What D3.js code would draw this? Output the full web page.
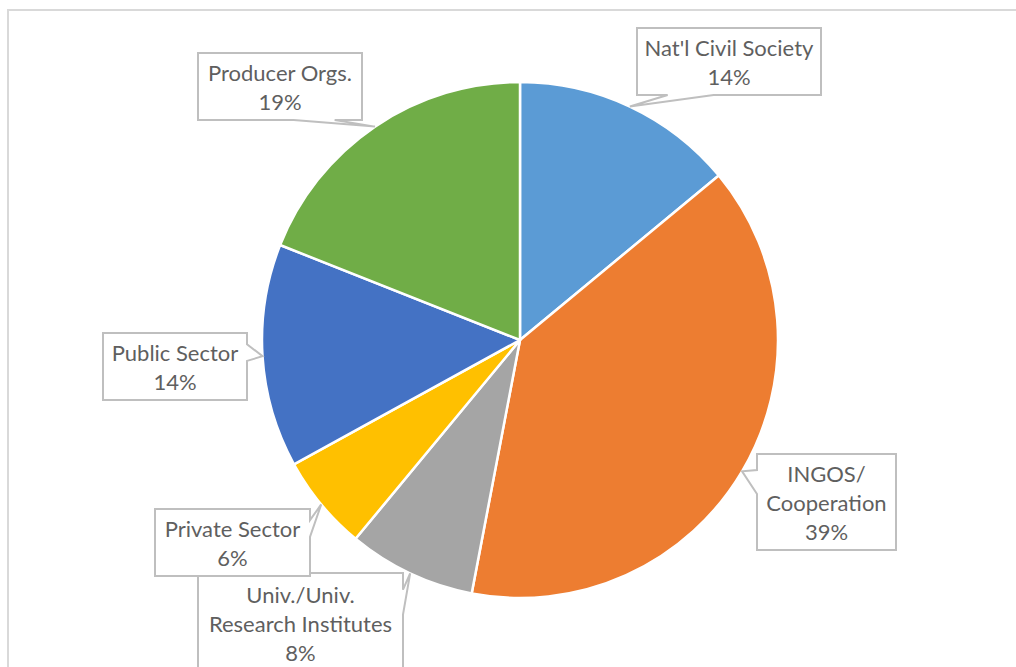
<!DOCTYPE html>
<html>
<head>
<meta charset="utf-8">
<script src="https://cdn.jsdelivr.net/npm/d3@7"></script>
<style>
  html, body { margin: 0; padding: 0; background: #fff; }
  svg { display: block; }
</style>
</head>
<body>
<svg id="chart" width="1016" height="667"></svg>
<script>
// Share of partners by type (percent), clockwise from 12 o'clock
const categories = ["Nat'l Civil Society", "INGOS/\nCooperation", "Univ./Univ.\nResearch Institutes", "Private Sector", "Public Sector", "Producer Orgs."];
const values = [14, 39, 8, 6, 14, 19];
const colors = ["#5B9BD5", "#ED7D31", "#A5A5A5", "#FFC000", "#4472C4", "#70AD47"];

// Callout boxes: [x, y, width, height, side carrying the pointer]
const calloutBoxes = [
  [637, 28, 184, 67, "bottom"],
  [757, 454, 139, 96, "left"],
  [198, 573, 205, 100, "right"],
  [155, 509, 155, 67, "right"],
  [103, 333, 144, 67, "right"],
  [198, 53, 164, 67, "bottom"]
];

const svg = d3.select("#chart");
const cx = 520, cy = 340, radius = 258;

// Chart area frame
svg.append("rect")
  .attr("x", 8).attr("y", 10)
  .attr("width", 1030).attr("height", 690)
  .attr("fill", "#fff")
  .attr("stroke", "#d9d9d9").attr("stroke-width", 2);

const pie = d3.pie().sort(null).value(d => d.value);
const arcs = pie(categories.map((c, i) => ({ name: c, value: values[i], color: colors[i] })));
const arc = d3.arc().innerRadius(0).outerRadius(radius);
const edge = d3.arc().innerRadius(radius).outerRadius(radius);

const g = svg.append("g").attr("transform", `translate(${cx},${cy})`);
g.selectAll("path.slice")
  .data(arcs)
  .join("path")
  .attr("class", "slice")
  .attr("d", arc)
  .attr("fill", d => d.data.color)
  .attr("stroke", "#fff")
  .attr("stroke-width", 2.5)
  .attr("stroke-linejoin", "round");

// Rectangle callout with a wedge pointing at the slice edge
function calloutPath(x0, y0, w, h, side, tx, ty) {
  const x1 = x0 + w, y1 = y0 + h;
  const mx = x0 + w / 2, my = y0 + h / 2;
  const hx = tx > mx ? [7, 10] : [2, 5];
  const hy = ty > my ? [7, 10] : [2, 5];
  const bx = hx.map(k => x0 + w * k / 12);
  const by = hy.map(k => y0 + h * k / 12);
  const p = d3.path();
  p.moveTo(x0, y0);
  if (side === "top") { p.lineTo(bx[0], y0); p.lineTo(tx, ty); p.lineTo(bx[1], y0); }
  p.lineTo(x1, y0);
  if (side === "right") { p.lineTo(x1, by[0]); p.lineTo(tx, ty); p.lineTo(x1, by[1]); }
  p.lineTo(x1, y1);
  if (side === "bottom") { p.lineTo(bx[1], y1); p.lineTo(tx, ty); p.lineTo(bx[0], y1); }
  p.lineTo(x0, y1);
  if (side === "left") { p.lineTo(x0, by[1]); p.lineTo(tx, ty); p.lineTo(x0, by[0]); }
  p.closePath();
  return p.toString();
}

const labels = svg.append("g");
arcs.forEach((d, i) => {
  const [bx, by, bw, bh, side] = calloutBoxes[i];
  const [ex, ey] = edge.centroid(d);
  const tx = cx + ex, ty = cy + ey;
  const lg = labels.append("g");
  lg.append("path")
    .attr("d", calloutPath(bx, by, bw, bh, side, tx, ty))
    .attr("fill", "#fff")
    .attr("stroke", "#bfbfbf")
    .attr("stroke-width", 2)
    .attr("stroke-linejoin", "miter");
  const lines = d.data.name.split("\n").concat([d.data.value + "%"]);
  const lh = 29;
  const mid = by + bh / 2;
  lg.append("text")
    .attr("font-family", "Lato, 'Open Sans', sans-serif")
    .attr("font-size", 22)
    .attr("fill", "#5f5f5f")
    .attr("text-anchor", "middle")
    .selectAll("tspan")
    .data(lines)
    .join("tspan")
    .attr("x", bx + bw / 2)
    .attr("y", (t, k) => mid + (k - (lines.length - 1) / 2) * lh + 8.5)
    .text(t => t);
});
</script>
</body>
</html>
